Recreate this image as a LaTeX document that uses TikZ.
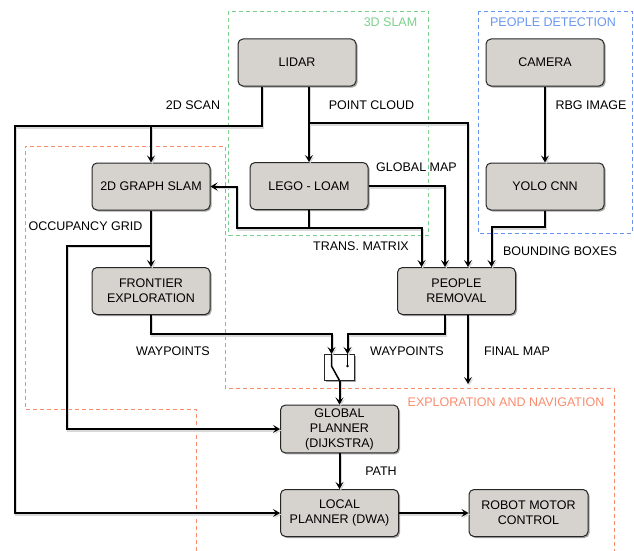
\documentclass[tikz,border=0pt]{standalone}
\usepackage{fontspec}
\setmainfont{Liberation Sans}
\usetikzlibrary{arrows.meta,shadows,calc}
\definecolor{boxgray}{RGB}{214,210,206}
\definecolor{slamgreen}{RGB}{125,208,140}
\definecolor{detblue}{RGB}{105,150,240}
\definecolor{navorange}{RGB}{250,140,110}
\tikzset{
  box/.style={draw=black!85, line width=1pt, fill=boxgray, rounded corners=5pt,
    minimum width=118pt, minimum height=47pt, align=center,
    font=\fontsize{12.5}{15}\selectfont,
    drop shadow={shadow xshift=1.5pt, shadow yshift=-1.5pt, opacity=0.35, fill=black}},
  conn/.style={line width=2pt, -{Stealth[length=7pt,width=8pt,inset=3pt]}},
  lbl/.style={font=\fontsize{12.5}{15}\selectfont, inner sep=0pt},
  grp/.style={line width=0.9pt, dash pattern=on 4pt off 3pt},
}
\newcommand\myconnectors{%
\draw[conn] ([xshift=-35pt]lidar.south) |- (scanCorner) |- (lplan.west);
\draw[conn] (gslam.north |- scanCorner) -- (gslam.north);
\draw[conn] (lidar.south -| lego.north) -- (lego.north);
\draw[conn] (lego.north |- pcy) -| ([xshift=11.5pt]removal.north);
\draw[conn] (lego.east) -| ([xshift=-11.5pt]removal.north);
\draw[conn] (lego.south) |- (trX |- trY) |- (gslam.east);
\draw[conn] (lego.south |- trY) -| ([xshift=-35pt]removal.north);
\draw[conn] (camera.south) -- (yolo.north);
\draw[conn] (yolo.south) -- ++(0,16.7) -| ([xshift=35pt]removal.north);
\draw[conn] (gslam.south) -- (frontier.north);
\draw[conn] (gslam.south |- og) -- (og) |- (gplan.west);
\draw[conn] (frontier.south) |- ($(swL)+(0,-20)$) -- (swL);
\draw[conn] ([xshift=-11.5pt]removal.south) |- ($(swR)+(0,-20)$) -- (swR);
\draw[conn] (sw.south) -- (gplan.north);
\draw[conn] ([xshift=11.5pt]removal.south) -- (fm);
\draw[conn] (gplan.south) -- (lplan.north);
\draw[conn] (lplan.east) -- (robot.west);
}
\begin{document}
\begin{tikzpicture}[x=1pt,y=-1pt]
\useasboundingbox (0,0) rectangle (634,551);
% groups
\draw[grp, draw=slamgreen] (228.5,11) rectangle (428,235);
\node[lbl, text=slamgreen] (tslam) at (390.5,22) {3D SLAM};
\draw[grp, draw=detblue] (478,11) rectangle (632,233);
\node[lbl, text=detblue] (tdet) at (553,22) {PEOPLE DETECTION};
\draw[grp, draw=navorange] (196,551) -- (196,409) -- (25,409) -- (25,146) -- (225,146)
  -- (225,388) -- (614,388) -- (614,551);
\node[lbl, text=navorange] (tnav) at (506,402) {EXPLORATION AND NAVIGATION};
% nodes
\node[box] (lidar) at (297,62.5) {LIDAR};
\node[box] (camera) at (545,62.5) {CAMERA};
\node[box] (gslam) at (151,186.5) {2D GRAPH SLAM};
\node[box] (lego) at (309,186) {LEGO - LOAM};
\node[box] (yolo) at (545,186.5) {YOLO CNN};
\node[box] (frontier) at (151,291) {FRONTIER\\EXPLORATION};
\node[box] (removal) at (456.5,291) {PEOPLE\\REMOVAL};
\node[box] (gplan) at (339.5,429) {GLOBAL\\PLANNER\\(DIJKSTRA)};
\node[box] (lplan) at (339.5,513) {LOCAL\\PLANNER (DWA)};
\node[box, minimum width=119pt] (robot) at (528.5,513) {ROBOT MOTOR\\CONTROL};
\node[draw=black!85, line width=1pt, fill=white, minimum width=30pt, minimum height=26pt,
  inner sep=0pt, drop shadow={shadow xshift=1.5pt, shadow yshift=-1.5pt, opacity=0.35, fill=black}]
  (sw) at (339.5,367) {};
\coordinate (swL) at (331.5,354);
\coordinate (swR) at (347.5,354);
\draw[line width=1.5pt] (swL) -- ++(0,12) -- (sw.south);
\draw[line width=1.5pt] (swR) -- ++(0,12);
\fill (347.5,366) circle (1.3pt);
% coordinates
\coordinate (scanCorner) at (15,126);
\coordinate (pcy) at (0,123);
\coordinate (trY) at (0,228);
\coordinate (trX) at (236.7,0);
\coordinate (og) at (66.7,245.7);
\coordinate (fm) at (468,384);
% connector shadows, then connectors
\begin{scope}[transform canvas={xshift=1.3pt,yshift=-1.5pt}, black!15]
\myconnectors
\end{scope}
\myconnectors
% labels
\node[lbl] (l2d) at (193,105) {2D SCAN};
\node[lbl] (lpc) at (371.5,105) {POINT CLOUD};
\node[lbl] (lrbg) at (591,105) {RBG IMAGE};
\node[lbl] (lgm) at (416.5,167) {GLOBAL MAP};
\node[lbl] (ltm) at (361,246.5) {TRANS. MATRIX};
\node[lbl] (lbb) at (560,251.5) {BOUNDING BOXES};
\node[lbl] (log) at (85.5,226) {OCCUPANCY GRID};
\node[lbl] (lwp1) at (173,351) {WAYPOINTS};
\node[lbl] (lwp2) at (407,351) {WAYPOINTS};
\node[lbl] (lfm) at (517,351) {FINAL MAP};
\node[lbl] (lpath) at (381,471) {PATH};
\end{tikzpicture}
\end{document}
